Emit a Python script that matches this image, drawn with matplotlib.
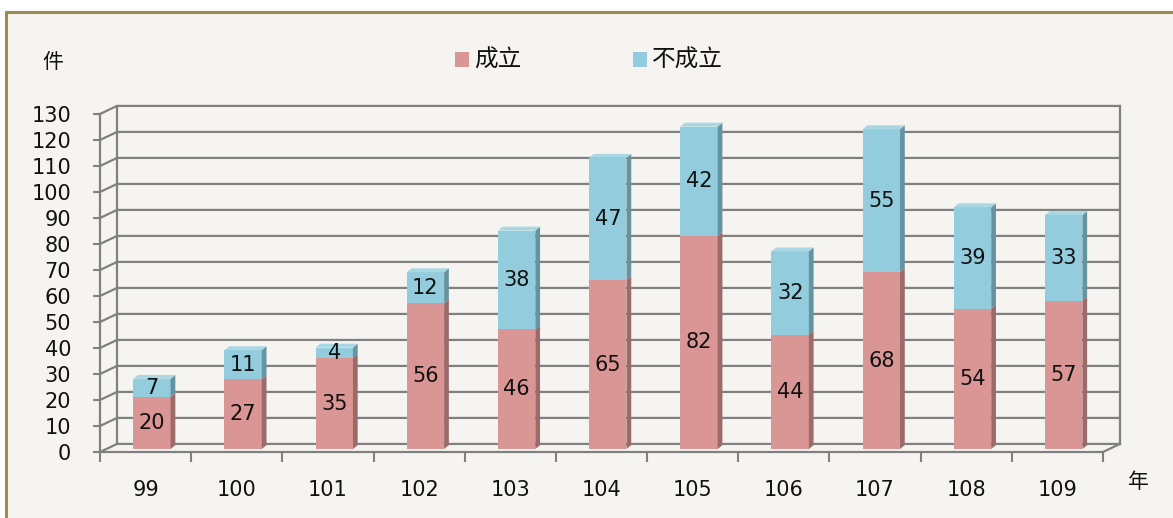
import numpy as np
import matplotlib
matplotlib.use('Agg')
import matplotlib.pyplot as plt
from matplotlib.patches import Rectangle, Polygon

years = ['99', '100', '101', '102', '103', '104', '105', '106', '107', '108', '109']
passed = [20, 27, 35, 56, 46, 65, 82, 44, 68, 54, 57]
failed = [7, 11, 4, 12, 38, 47, 42, 32, 55, 39, 33]
legend_labels = ['成立', '不成立']

plt.rcParams['font.family'] = ['DejaVu Sans', 'Noto Sans CJK TC']

W, H = 1173, 518
fig = plt.figure(figsize=(W / 100, H / 100), dpi=100, facecolor='white')


def fx(px):
    return px / W


def fy(py):
    return 1 - py / H


# olive outer frame of the chart area
frame = Rectangle((fx(5.5), -0.1), 1.2, fy(12) + 0.1, transform=fig.transFigure,
                  facecolor='#f5f4f0', edgecolor='#9b8c52', linewidth=2.2, zorder=-1)
fig.patches.append(frame)

ax = fig.add_axes([fx(100), fy(452), fx(1103) - fx(100), fy(114) - fy(452)])
ax.set_facecolor('none')
ax.set_xlim(-0.5, len(years) - 0.5)
ax.set_ylim(0, 130)

grid_c = '#808080'
text_c = '#111111'
dx, dy = 0.186, 3.1   # depth of the fake 3D box
x_end = len(years) - 0.5

# side wall + back wall gridlines
for v in range(0, 131, 10):
    ax.plot([-0.5, -0.5 + dx, x_end + dx], [v, v + dy, v + dy], color=grid_c,
            lw=1.6, clip_on=False, zorder=1, solid_joinstyle='miter')
ax.plot([-0.5 + dx] * 2, [dy, 130 + dy], color=grid_c, lw=1.6, clip_on=False, zorder=1)
ax.plot([x_end + dx] * 2, [dy, 130 + dy], color=grid_c, lw=1.6, clip_on=False, zorder=1)
ax.plot([x_end, x_end + dx], [0, dy], color=grid_c, lw=1.6, clip_on=False, zorder=1)

for s in ['top', 'right']:
    ax.spines[s].set_visible(False)
for s in ['left', 'bottom']:
    ax.spines[s].set_color(grid_c)
    ax.spines[s].set_linewidth(1.6)

# bars
pink, blue = '#d99694', '#93cddd'
pink_side, blue_side = '#9c6a69', '#6494a2'
blue_top = '#a9d7e4'
bw = 0.41
base = 1.15
sdx, sdy = 0.052, 1.5
x = np.arange(len(years)) + 0.069
passed_arr = np.array(passed)
failed_arr = np.array(failed)

ax.bar(x, passed_arr, bw, bottom=base, color=pink, zorder=3)
ax.bar(x, failed_arr, bw, bottom=base + passed_arr, color=blue, zorder=3)

for xi, p, f in zip(x, passed_arr, failed_arr):
    r = xi + bw / 2
    for b, h, c in [(base, p, pink_side), (base + p, f, blue_side)]:
        ax.add_patch(Polygon([(r, b), (r + sdx, b + sdy), (r + sdx, b + h + sdy), (r, b + h)],
                             closed=True, facecolor=c, edgecolor='none', zorder=3, clip_on=False))
    top = base + p + f
    ax.add_patch(Polygon([(xi - bw / 2, top), (xi - bw / 2 + sdx, top + sdy),
                          (r + sdx, top + sdy), (r, top)],
                         closed=True, facecolor=blue_top, edgecolor='none', zorder=3, clip_on=False))
    ax.text(xi, base + p / 2, str(p), ha='center', va='center', fontsize=15,
            color=text_c, zorder=4)
    ax.text(xi, base + p + f / 2, str(f), ha='center', va='center', fontsize=15,
            color=text_c, zorder=4)

# ticks
ax.set_yticks(range(0, 131, 10))
ax.tick_params(axis='y', length=5, width=1.5, color=grid_c, pad=15.8,
               labelsize=15, labelcolor=text_c)
ax.set_xticks(np.arange(len(years)), years)
ax.tick_params(axis='x', which='major', length=0, pad=20, labelsize=15,
               labelcolor=text_c)
ax.set_xticks(np.arange(len(years) + 1) - 0.5, minor=True)
ax.tick_params(axis='x', which='minor', length=7, width=1.5, color=grid_c)

# axis unit labels
fig.text(fx(53), fy(62), '件', family=['Noto Sans CJK TC'], fontsize=15,
         ha='center', va='center', color=text_c)
fig.text(fx(1138), fy(482), '年', family=['Noto Sans CJK TC'], fontsize=15,
         ha='center', va='center', color=text_c)

# legend
for lx, col, lab in [(455, pink, legend_labels[0]), (633, blue, legend_labels[1])]:
    fig.patches.append(Rectangle((fx(lx), fy(67)), fx(14), 15 / H, transform=fig.transFigure,
                                 facecolor=col, edgecolor='none'))
    fig.text(fx(lx + 19), fy(60), lab, family=['Noto Sans CJK TC'], fontsize=17,
             ha='left', va='center', color=text_c)

fig.savefig('out.png', dpi=100, facecolor=fig.get_facecolor())
